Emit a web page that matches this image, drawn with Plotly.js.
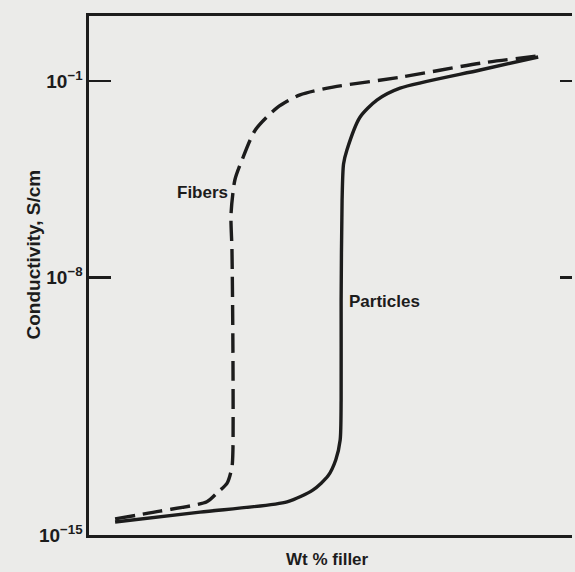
<!DOCTYPE html>
<html>
<head>
<meta charset="utf-8">
<script src="https://cdn.plot.ly/plotly-3.0.1.min.js"></script>
<style>
html,body{margin:0;padding:0;background:#ebebe9;}
#chart{width:575px;height:572px;}
</style>
</head>
<body>
<div id="chart"></div>
<script>
// Schematic axes: x = wt % filler (arbitrary 0-100), y = normalized conductivity level (0 = 10^-15)
const tickLevels = [0, 0.496, 0.875];
const tickLabels = ["10<sup>−15</sup>", "10<sup>−8</sup>", "10<sup>−1</sup>"];

const particlesX = [5.4, 23.0, 41.0, 46.4, 49.5, 51.1, 52.0, 52.2, 52.2, 52.4, 52.7, 53.4, 56.1, 59.6, 64.4, 81.0, 93.0];
const particlesY = [0.025, 0.044, 0.064, 0.087, 0.114, 0.145, 0.183, 0.260, 0.453, 0.645, 0.715, 0.742, 0.805, 0.838, 0.861, 0.896, 0.921];

const fibersX = [5.4, 14.7, 24.4, 26.5, 28.6, 29.6, 29.8, 29.8, 29.6, 29.4, 30.2, 31.7, 34.4, 38.9, 43.7, 50.5, 64.4, 81.0, 93.0];
const fibersY = [0.031, 0.046, 0.064, 0.081, 0.100, 0.131, 0.164, 0.356, 0.549, 0.617, 0.684, 0.723, 0.780, 0.823, 0.848, 0.863, 0.882, 0.909, 0.923];

const ink = '#1c1c1c';
const fontFam = '"Liberation Sans", Arial, Helvetica, sans-serif';

const traces = [
  {x: particlesX, y: particlesY, mode: 'lines', name: 'Particles',
   line: {color: ink, width: 3.4, shape: 'spline', smoothing: 0.7}, hoverinfo: 'skip'},
  {x: fibersX, y: fibersY, mode: 'lines', name: 'Fibers',
   line: {color: ink, width: 3.4, shape: 'spline', smoothing: 0.7, dash: '20px,8px'}, hoverinfo: 'skip'},
  {x: [null], y: [null], yaxis: 'y2', mode: 'lines', showlegend: false, hoverinfo: 'skip'}
];

const layout = {
  width: 575, height: 572,
  margin: {l: 89, r: 3, t: 16, b: 37},
  paper_bgcolor: '#ebebe9', plot_bgcolor: '#ebebe9',
  showlegend: false,
  font: {family: fontFam, color: ink},
  xaxis: {range: [0, 100], showgrid: false, zeroline: false, showticklabels: false, ticks: '',
          showline: true, linecolor: ink, linewidth: 2.6, mirror: true, fixedrange: true},
  yaxis: {range: [0, 1], showgrid: false, zeroline: false, showline: true, linecolor: ink, linewidth: 2.6,
          tickmode: 'array', tickvals: tickLevels, ticktext: tickLabels,
          ticks: 'inside', ticklen: 22, tickwidth: 2.6, tickcolor: ink,
          tickfont: {family: fontFam, size: 19, color: ink, weight: 'bold'}, fixedrange: true},
  yaxis2: {range: [0, 1], overlaying: 'y', side: 'right', showgrid: false, zeroline: false,
           showline: false, tickmode: 'array', tickvals: [0.496, 0.875], showticklabels: false,
           ticks: 'inside', ticklen: 12, tickwidth: 2.6, tickcolor: ink, fixedrange: true},
  annotations: [
    {x: 23.6, y: 0.659, xref: 'x', yref: 'y', text: 'Fibers', showarrow: false,
     font: {size: 17, weight: 'bold', family: fontFam, color: ink}},
    {x: 61.1, y: 0.449, xref: 'x', yref: 'y', text: 'Particles', showarrow: false,
     font: {size: 17, weight: 'bold', family: fontFam, color: ink}},
    {x: (20 - 89) / 483, y: (535 - 255) / 519, xref: 'paper', yref: 'paper', text: 'Conductivity, S/cm', showarrow: false,
     textangle: -90, font: {size: 19, weight: 'bold', family: fontFam, color: ink}},
    {x: (327 - 89) / 483, y: (535 - 559) / 519, xref: 'paper', yref: 'paper', yanchor: 'middle', text: 'Wt % filler', showarrow: false,
     font: {size: 17, weight: 'bold', family: fontFam, color: ink}}
  ]
};

Plotly.newPlot('chart', traces, layout, {staticPlot: true});
</script>
</body>
</html>
